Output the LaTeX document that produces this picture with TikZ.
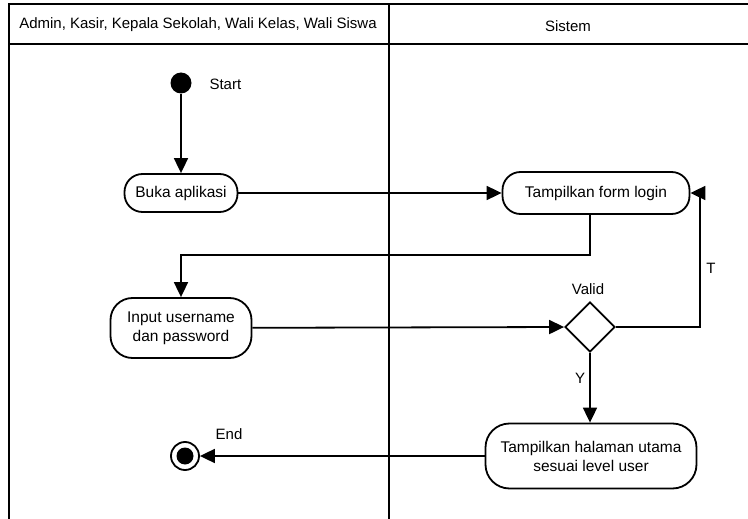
\documentclass[tikz,border=0pt]{standalone}
\usepackage{fontspec}
\setmainfont{Liberation Sans}
\usetikzlibrary{shapes.geometric,arrows.meta}
\begin{document}
\begin{tikzpicture}[x=1pt,y=-1pt,
  act/.style={draw,line width=1.8pt,rounded corners=18pt,align=center,font=\fontsize{15.5}{19}\selectfont,inner sep=0pt},
  lane/.style={line width=2.2pt},
  flow/.style={line width=1.8pt,-{Triangle[length=15pt,width=14pt]}},
  lbl/.style={font=\fontsize{15}{18}\selectfont}]
\useasboundingbox (0,0) rectangle (748,519);
% swimlanes
\draw[lane] (9,519) -- (9,4) -- (748,4);
\draw[lane] (9,44) -- (748,44);
\draw[lane] (389,4) -- (389,519);
\node[lbl] (h1) at (198,25) {Admin, Kasir, Kepala Sekolah, Wali Kelas, Wali Siswa};
\node[lbl] (h2) at (568,26) {Sistem};
% nodes
\node[circle,fill=black,minimum size=21pt,inner sep=0pt] (start) at (181,83) {};
\node[lbl,anchor=west] (startl) at (206,84) {Start};
\node[act,minimum width=113pt,minimum height=38pt] (buka) at (181,193) {Buka aplikasi};
\node[act,minimum width=187pt,minimum height=42pt] (form) at (596,193) {Tampilkan form login};
\node[act,minimum width=141pt,minimum height=60pt,rounded corners=22pt] (input) at (181,328) {Input username\\dan password};
\node[diamond,draw,line width=1.8pt,minimum width=50pt,minimum height=50pt,inner sep=0pt] (valid) at (590,327) {};
\node[lbl] (validl) at (588,289) {Valid};
\node[act,minimum width=211pt,minimum height=65pt,rounded corners=24pt] (home) at (591,456) {Tampilkan halaman utama\\sesuai level user};
\node[circle,draw,line width=1.8pt,minimum size=28pt,inner sep=0pt] (end) at (185,456) {};
\node[circle,fill=black,minimum size=17pt,inner sep=0pt] (endin) at (185,456) {};
\node[lbl] (endl) at (229,434) {End};
% connectors
\draw[flow] (start) -- (buka);
\draw[flow] (buka) -- (form);
\draw[flow] (form.south -| 590,0) -- (590,255) -- (181,255) -- (input.north);
\draw[flow] (input) -- (valid.west);
\draw[flow] (valid.east) -- (700,327) -- (700,193) -- (form.east);
\node[lbl] (tl) at (711,268) {T};
\draw[flow] (valid.south) -- (home.north -| valid.south);
\node[lbl] (yl) at (580,378) {Y};
\draw[flow] (home.west) -- (end.east);
\end{tikzpicture}
\end{document}
